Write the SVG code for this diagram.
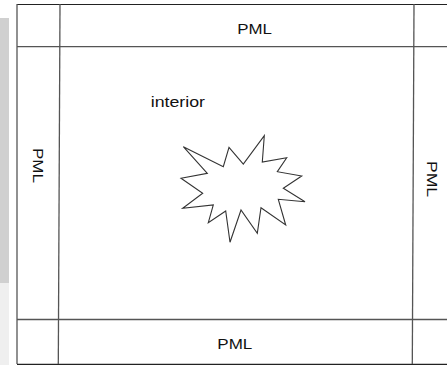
<svg xmlns="http://www.w3.org/2000/svg" width="447" height="365" viewBox="0 0 447 365">
<style>
.ln{stroke:#555;stroke-width:1.3;fill:none}
.bd{stroke:#222;stroke-width:1.2;fill:none}
.t{font-family:"Liberation Sans",Arial,sans-serif;font-size:15px;fill:#111}
</style>
<rect width="447" height="365" fill="#fff"/>
<rect x="0" y="18" width="9" height="265" fill="#d0d0d0"/>
<rect x="0" y="283" width="9" height="82" fill="#efefef"/>
<g id="frame">
<line class="bd" x1="17" y1="4.5" x2="447" y2="4.5"/>
<line class="ln" x1="17" y1="4" x2="17" y2="364"/>
<line class="bd" x1="17" y1="364.3" x2="447" y2="364.3"/>
<line class="ln" x1="17" y1="46.7" x2="447" y2="46.7"/>
<line class="ln" x1="17" y1="319.5" x2="447" y2="319.5"/>
<line class="ln" x1="60" y1="4" x2="58.3" y2="364"/>
<line class="ln" x1="414" y1="4" x2="412.3" y2="364"/>
</g>
<g id="pml-top"><text class="t" x="237.3" y="34" textLength="34.7" lengthAdjust="spacingAndGlyphs">PML</text></g>
<g id="pml-bottom"><text class="t" x="217.3" y="348.7" textLength="35" lengthAdjust="spacingAndGlyphs">PML</text></g>
<g id="pml-left"><text class="t" transform="translate(33,148) rotate(90)" textLength="35" lengthAdjust="spacingAndGlyphs">PML</text></g>
<g id="pml-right"><text class="t" transform="translate(427,161) rotate(90)" textLength="36" lengthAdjust="spacingAndGlyphs">PML</text></g>
<g id="interior"><text class="t" x="150.7" y="107.3" textLength="54.3" lengthAdjust="spacingAndGlyphs">interior</text></g>
<g id="scatterer">
<polygon points="183.3,146.7 223.3,166.7 229,147.3 243.3,164 264.3,135.7 262.3,162 286.7,157.7 277.3,171.7 301.7,176 283.3,188.3 305,201.7 278.3,199.3 285.7,225 261,207.7 257.3,233.3 241,210 230,242.3 225.7,211 208.3,222.7 213.3,205 182.7,208.3 202.7,193.3 181,178.3 207.3,173.3" fill="#fff" stroke="#333" stroke-width="1.1" stroke-linejoin="miter"/>
</g>
</svg>
